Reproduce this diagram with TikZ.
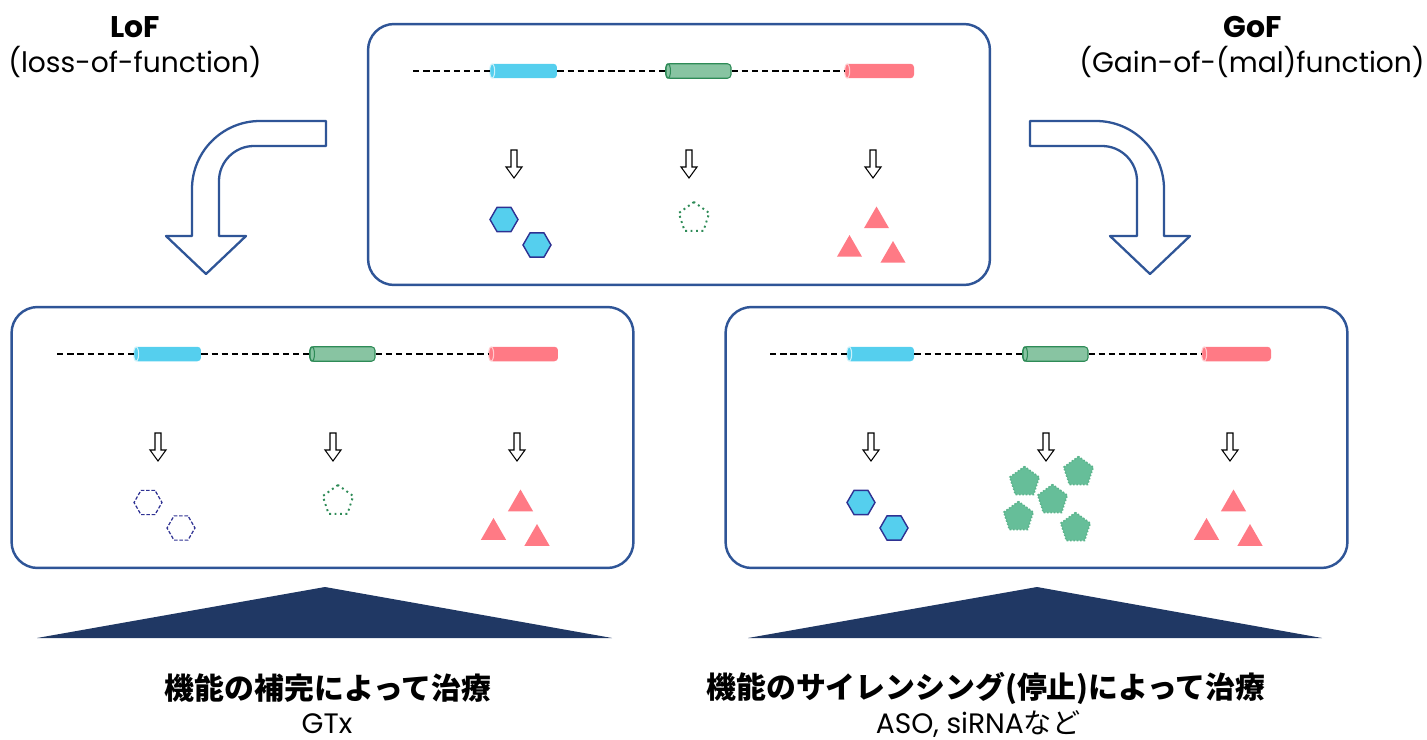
\documentclass[tikz,border=0pt]{standalone}
\usepackage{fontspec}
\setmainfont{Poppins}
\newfontfamily\jp{Noto Sans CJK JP}
\usetikzlibrary{shapes.geometric}

\definecolor{frameblue}{RGB}{47,85,151}
\definecolor{navy}{RGB}{32,56,100}
\definecolor{genecyan}{RGB}{85,207,238}
\definecolor{genegreen}{RGB}{136,196,162}
\definecolor{darkgreen}{RGB}{46,139,87}
\definecolor{protgreen}{RGB}{102,190,153}
\definecolor{genepink}{RGB}{255,122,133}
\definecolor{hexline}{RGB}{46,49,146}

\tikzset{
  panel/.style={draw=frameblue, line width=1.4pt, rounded corners=0.52cm,
    minimum width=12.44cm, minimum height=5.22cm, inner sep=0},
  bigarrow/.style={draw=frameblue, line width=1.3pt, fill=white, line join=round},
  smallarr/.style={draw=black, line width=0.6pt, fill=white},
  dna/.style={black, line width=1.4pt, dash pattern=on 3.6pt off 2.2pt},
  cyl/.style={rectangle, rounded corners=2pt, inner sep=0, minimum height=0.29cm},
  cylend/.style={line width=0.6pt},
  hexfull/.style={regular polygon, regular polygon sides=6, minimum size=0.56cm,
    inner sep=0, fill=genecyan, draw=hexline, line width=0.8pt},
  hexgone/.style={regular polygon, regular polygon sides=6, minimum size=0.56cm,
    inner sep=0, draw=hexline, line width=0.7pt, dash pattern=on 2pt off 1pt},
  pentgone/.style={regular polygon, regular polygon sides=5, minimum size=0.64cm,
    inner sep=0, draw=darkgreen, line width=1.1pt, dotted},
  pentfull/.style={regular polygon, regular polygon sides=5, minimum size=0.62cm,
    inner sep=0, fill=protgreen, draw=protgreen!80!darkgreen, line width=0.9pt, densely dotted},
  tri/.style={regular polygon, regular polygon sides=3, minimum size=0.58cm,
    inner sep=0, fill=genepink},
  head/.style={font=\fontsize{17}{20}\selectfont\bfseries},
  sub/.style={font=\fontsize{16}{19}\selectfont},
  jphead/.style={font=\jp\fontsize{17}{20}\selectfont\bfseries},
}

% gene row with the three small arrows, #1 = name prefix
\newcommand{\generow}[1]{%
  \coordinate (#1s) at (45,47);
  \node[cyl, minimum width=1.34cm, fill=genecyan] (#1a) at (155.5,47) {};
  \node[cyl, minimum width=1.30cm, fill=genegreen, draw=darkgreen, line width=0.6pt] (#1b) at (330.5,47) {};
  \node[cyl, minimum width=1.38cm, fill=genepink] (#1c) at (511.5,47) {};
  \draw[cylend, draw=genecyan!30] ([xshift=0.05cm]#1a.west) ellipse (0.05cm and 0.14cm);
  \draw[cylend, draw=darkgreen] ([xshift=0.05cm]#1b.west) ellipse (0.05cm and 0.145cm);
  \draw[cylend, draw=genepink!40] ([xshift=0.05cm]#1c.west) ellipse (0.05cm and 0.14cm);
  \draw[dna] (#1s) -- (#1a);
  \draw[dna] (#1a) -- (#1b);
  \draw[dna] (#1b) -- (#1c);
  \foreach \x in {146,321,505}
    \draw[smallarr] (\x-3,126) -- (\x+3,126) -- (\x+3,143) -- (\x+8,143)
      -- (\x,154) -- (\x-8,143) -- (\x-3,143) -- cycle;
}

\begin{document}
\begin{tikzpicture}[x=0.02cm, y=-0.02cm]
\useasboundingbox (0,0) rectangle (1427,740);

% headings
\node[head] (lof) at (135,27) {LoF};
\node[sub] (loftxt) at (135,62) {(loss-of-function)};
\node[head] (gof) at (1253,27) {GoF};
\node[sub] (goftxt) at (1252,62) {(Gain-of-(mal)function)};

% panels
\node[panel] (top) at (679,154.5) {};
\node[panel] (left) at (322.5,437.5) {};
\node[panel] (right) at (1036.5,437.5) {};

% curved arrows
\draw[bigarrow] (326,121) -- (260,121) .. controls (222.4,121) and (192,151.6) .. (192,189)
  -- (192,236) -- (166,236) -- (206,274) -- (246,236) -- (219,236) -- (219,181)
  .. controls (219,161.7) and (234.7,146) .. (254,146) -- (326,146) -- cycle;
\draw[bigarrow] (1030,121) -- (1096,121) .. controls (1133.6,121) and (1164,151.6) .. (1164,189)
  -- (1164,236) -- (1190,236) -- (1150,274) -- (1110,236) -- (1137,236) -- (1137,181)
  .. controls (1137,161.7) and (1121.3,146) .. (1102,146) -- (1030,146) -- cycle;

% normal
\begin{scope}[shift={(368,24)}]
  \generow{t}
  \node[hexfull] (th1) at (136,195.5) {};
  \node[hexfull] (th2) at (169,221) {};
  \node[pentgone] (tp) at (326,194) {};
  \node[tri] (tt1) at (508.5,197) {};
  \node[tri] (tt2) at (481.5,225.5) {};
  \node[tri] (tt3) at (525,231.5) {};
\end{scope}

% loss of function
\begin{scope}[shift={(12,307)}]
  \generow{l}
  \node[hexgone] (lh1) at (136,195.5) {};
  \node[hexgone] (lh2) at (169,221) {};
  \node[pentgone] (lp) at (326,194) {};
  \node[tri] (lt1) at (508.5,197) {};
  \node[tri] (lt2) at (481.5,225.5) {};
  \node[tri] (lt3) at (525,231.5) {};
\end{scope}

% gain of function
\begin{scope}[shift={(725,307)}]
  \generow{r}
  \node[hexfull] (rh1) at (136,195.5) {};
  \node[hexfull] (rh2) at (169,221) {};
  \node[pentfull] (rp1) at (299.5,175) {};
  \node[pentfull] (rp2) at (353.5,165) {};
  \node[pentfull] (rp3) at (327.5,193) {};
  \node[pentfull] (rp4) at (293.5,210) {};
  \node[pentfull] (rp5) at (350.5,221) {};
  \node[tri] (rt1) at (508.5,197) {};
  \node[tri] (rt2) at (481.5,225.5) {};
  \node[tri] (rt3) at (525,231.5) {};
\end{scope}

% therapy
\fill[navy] (37,638) -- (325,587) -- (612,638) -- cycle;
\fill[navy] (748,638) -- (1037,587) -- (1322,638) -- cycle;
\node[jphead] (lther) at (328,688) {機能の補完によって治療};
\node[sub, anchor=base] (gtx) at (327,733) {GTx};
\node[jphead] (rther) at (986,688) {機能のサイレンシング(停止)によって治療};
\node[sub, anchor=base] (aso) at (978,733) {ASO, siRNA{\jp など}};
\end{tikzpicture}
\end{document}
